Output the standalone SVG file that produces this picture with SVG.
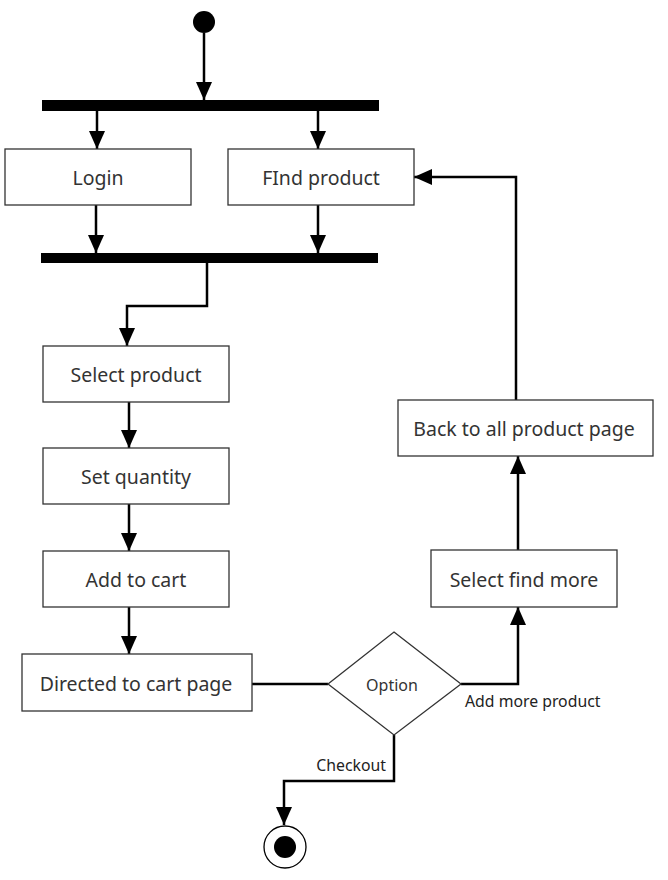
<svg xmlns="http://www.w3.org/2000/svg" width="668" height="880" viewBox="0 0 668 880">
<style>
.box{fill:#fff;stroke:#333;stroke-width:1.3}
.bar{fill:#000}
.lbl{font-family:"Noto Sans","Liberation Sans",sans-serif;font-size:19.5px;fill:#333;text-anchor:middle;dominant-baseline:central}
.elbl{font-family:"Noto Sans","Liberation Sans",sans-serif;font-size:15.8px;fill:#222;dominant-baseline:central}
.edge{fill:none;stroke:#000;stroke-width:2.5}
</style>
<defs>
<marker id="arr" viewBox="0 0 18 16" refX="18" refY="8" markerWidth="18" markerHeight="16" markerUnits="userSpaceOnUse" orient="auto">
<path d="M0,0 L18,8 L0,16 Z" fill="#000"/>
</marker>
</defs>
<rect width="668" height="880" fill="#fff"/>
<g id="connectors">
<path class="edge" d="M204,33 V100" marker-end="url(#arr)"/>
<path class="edge" d="M97,111 V149" marker-end="url(#arr)"/>
<path class="edge" d="M318,111 V149" marker-end="url(#arr)"/>
<path class="edge" d="M96,205 V253" marker-end="url(#arr)"/>
<path class="edge" d="M318,205 V253" marker-end="url(#arr)"/>
<path class="edge" d="M207,263 V306 H127 V346" marker-end="url(#arr)"/>
<path class="edge" d="M129,402 V448" marker-end="url(#arr)"/>
<path class="edge" d="M129,504 V551" marker-end="url(#arr)"/>
<path class="edge" d="M129,607 V654" marker-end="url(#arr)"/>
<path class="edge" d="M252,684 H328"/>
<path class="edge" d="M461,684 H518 V607" marker-end="url(#arr)"/>
<path class="edge" d="M518,550 V456" marker-end="url(#arr)"/>
<path class="edge" d="M516,400 V177 H414" marker-end="url(#arr)"/>
<path class="edge" d="M394,735 V781 H284 V825" marker-end="url(#arr)"/>
<text class="elbl" x="465" y="701">Add more product</text>
<text class="elbl" x="386" y="765" text-anchor="end">Checkout</text>
</g>
<g id="start"><circle cx="204" cy="22" r="11" fill="#000"/></g>
<g id="fork"><rect class="bar" x="42" y="100" width="337" height="11"/></g>
<g id="join"><rect class="bar" x="41" y="253" width="337" height="10"/></g>
<g id="login"><rect class="box" x="5" y="149" width="186" height="56"/><text class="lbl" x="98" y="177">Login</text></g>
<g id="findProduct"><rect class="box" x="228" y="149" width="186" height="56"/><text class="lbl" x="321" y="177">FInd product</text></g>
<g id="selectProduct"><rect class="box" x="43" y="346" width="186" height="56"/><text class="lbl" x="136" y="374">Select product</text></g>
<g id="setQuantity"><rect class="box" x="43" y="448" width="186" height="56"/><text class="lbl" x="136" y="476">Set quantity</text></g>
<g id="addToCart"><rect class="box" x="43" y="551" width="186" height="56"/><text class="lbl" x="136" y="579">Add to cart</text></g>
<g id="directedToCart"><rect class="box" x="22" y="654" width="230" height="57"/><text class="lbl" x="136" y="683">Directed to cart page</text></g>
<g id="option"><path class="box" d="M394,632 L461,684 L394,735 L328,684 Z"/><text class="lbl" x="392" y="685" style="font-size:16px">Option</text></g>
<g id="selectFindMore"><rect class="box" x="431" y="550" width="186" height="57"/><text class="lbl" x="524" y="579">Select find more</text></g>
<g id="backToAll"><rect class="box" x="398" y="400" width="255" height="56"/><text class="lbl" x="524" y="428">Back to all product page</text></g>
<g id="end"><circle cx="285" cy="847" r="21" fill="#fff" stroke="#000" stroke-width="1.3"/><circle cx="285" cy="847" r="11" fill="#000"/></g>
</svg>
